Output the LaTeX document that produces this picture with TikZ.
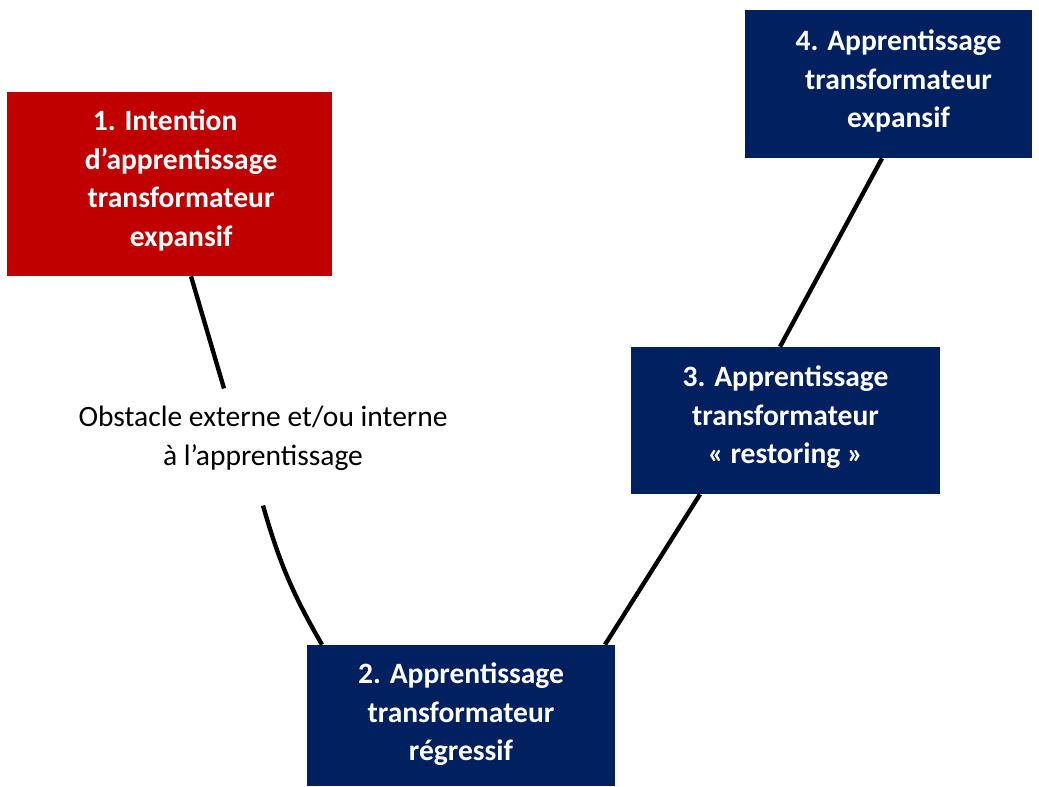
\documentclass[tikz,border=0pt]{standalone}
\usepackage{fontspec}
\setmainfont{Carlito}
\usetikzlibrary{calc}

\definecolor{boxred}{HTML}{C00000}
\definecolor{boxblue}{HTML}{002060}

\begin{document}
\begin{tikzpicture}[x=0.025cm,y=-0.025cm]

\tikzset{box/.style = {shape=rectangle,inner sep=0pt}}
\tikzset{boxtext/.style = {text=white,font=\fontsize{21}{27.5}\selectfont\bfseries,align=center,inner sep=0pt}}
\tikzset{obstacle/.style = {font=\fontsize{21}{27.7}\selectfont,align=center,inner sep=0pt}}
\tikzset{edge/.style = {line width=3.1pt}}

\useasboundingbox (0,0) rectangle (1039,787);

% boxes
\node[box, fill=boxred, minimum width=8.125cm, minimum height=4.6cm,
  label={[boxtext,xshift=0.29cm,yshift=0.09cm]center:1. Intention\hspace*{0.8cm}\\d’apprentissage\\transformateur\\expansif}] (box1) at (169.5,184) {};
\node[box, fill=boxblue, minimum width=7.7cm, minimum height=3.525cm,
  label={[boxtext,yshift=0.03cm]center:2. Apprentissage\\transformateur\\régressif}] (box2) at (461,715.5) {};
\node[box, fill=boxblue, minimum width=7.725cm, minimum height=3.675cm,
  label={[boxtext,yshift=0.08cm]center:3. Apprentissage\\transformateur\\«~restoring~»}] (box3) at (785.5,420.5) {};
\node[box, fill=boxblue, minimum width=7.175cm, minimum height=3.7cm,
  label={[boxtext,xshift=0.25cm,yshift=0.07cm]center:4. Apprentissage\\transformateur\\expansif}] (box4) at (888.5,84) {};

% label
\node[obstacle] (obst) at (263,438) {Obstacle externe et/ou interne\\à l’apprentissage};

%edges
\draw[edge] ($(box1.south)+(21.5,0)$) -- ($(obst.north)+(-39,-17)$);
\draw[edge] ($(obst.south)+(0,35)$) to[bend right=7] ($(box2.north)+(-139,0)$);
\draw[edge] ($(box2.north)+(144,0)$) -- ($(box3.south)+(-85.5,0)$);
\draw[edge] ($(box3.north)+(-5.5,0)$) -- ($(box4.south)+(-6.5,0)$);

\end{tikzpicture}
\end{document}
